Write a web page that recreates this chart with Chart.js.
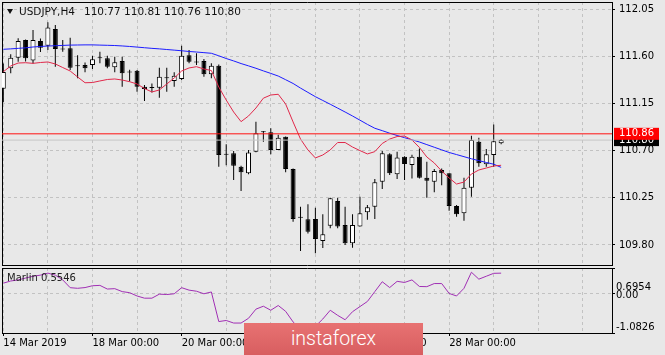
<!DOCTYPE html>
<html><head><meta charset="utf-8">
<script src="https://cdn.jsdelivr.net/npm/chart.js@4/dist/chart.umd.min.js"></script>
<style>
html,body{margin:0;padding:0;background:#e8e8e8;}
#wrap{position:relative;width:665px;height:355px;overflow:hidden;background:#e8e8e8;font-family:"DejaVu Sans",sans-serif;}
#main{position:absolute;left:0;top:0;}
#ind{position:absolute;left:0;top:266px;}
#hdr{position:absolute;left:19px;top:5px;font-size:10.5px;line-height:13px;color:#111;white-space:pre;}
#hdr span{margin-left:9px;}
#tri{position:absolute;left:7px;top:9px;width:0;height:0;border-left:3.5px solid transparent;border-right:3.5px solid transparent;border-top:5px solid #111;}
#ilab{position:absolute;left:7px;top:272px;font-size:10px;line-height:12px;color:#222;white-space:pre;}
#wm{position:absolute;left:244px;top:323px;width:179px;height:32px;background:linear-gradient(#e87272,#d85e60);color:#fff;font-family:Roboto,sans-serif;font-weight:300;font-size:19.5px;line-height:32px;text-align:center;}
</style></head><body>
<div id="wrap">
<canvas id="main" width="665" height="267"></canvas>
<canvas id="ind" width="665" height="89"></canvas>
<div id="tri"></div>
<div id="hdr"></div>
<div id="ilab"></div>
<div id="wm">instaforex</div>
</div>
<script>
// ---------- data ----------
const symbol = 'USDJPY';
const timeframe = 'H4';
const open  = [111.29,111.485,111.586,111.754,111.56,111.745,111.70,111.86,111.665,111.675,111.507,111.516,111.516,111.58,111.58,111.494,111.554,111.446,111.462,111.31,111.30,111.30,111.39,111.363,111.383,111.61,111.54,111.554,111.427,111.51,110.66,110.674,110.546,110.483,110.69,110.874,110.874,110.706,110.832,110.525,110.06,110.045,110.048,109.838,109.984,110.22,109.99,109.816,109.975,110.112,110.165,110.404,110.665,110.474,110.642,110.563,110.642,110.442,110.404,110.515,110.483,110.172,110.103,110.346,110.785,110.57,110.658,110.77];
const high  = [111.53,111.618,111.771,111.76,111.85,111.77,111.923,111.897,111.754,111.776,111.61,111.54,111.605,111.643,111.605,111.595,111.595,111.47,111.468,111.325,111.34,111.49,111.49,111.446,111.70,111.66,111.628,111.573,111.532,111.52,110.76,110.696,110.556,110.706,110.975,110.886,110.913,110.85,110.835,110.53,110.165,110.188,110.156,110.093,110.25,110.25,110.165,110.093,110.26,110.18,110.43,110.696,110.674,110.69,110.645,110.66,110.72,110.594,110.524,110.53,110.483,110.18,110.44,110.842,110.823,110.715,110.95,110.81];
const low   = [111.16,111.437,111.548,111.55,111.53,111.64,111.66,111.50,111.643,111.468,111.39,111.446,111.478,111.532,111.485,111.446,111.31,111.36,111.26,111.173,111.255,111.205,111.26,111.31,111.373,111.532,111.516,111.405,111.39,110.546,110.56,110.42,110.315,110.474,110.684,110.785,110.665,110.706,110.493,110.022,109.743,109.91,109.72,109.77,109.96,109.96,109.80,109.774,109.975,110.04,110.048,110.334,110.467,110.43,110.42,110.435,110.435,110.25,110.303,110.37,110.127,110.07,110.032,110.26,110.546,110.546,110.546,110.76];
const close = [111.45,111.586,111.745,111.58,111.754,111.681,111.875,111.669,111.668,111.49,111.505,111.485,111.57,111.59,111.50,111.542,111.437,111.444,111.31,111.287,111.298,111.405,111.392,111.414,111.605,111.548,111.542,111.427,111.51,110.658,110.662,110.556,110.493,110.683,110.865,110.876,110.706,110.823,110.525,110.048,110.062,109.927,109.857,109.902,110.245,109.975,109.816,109.99,110.103,110.16,110.398,110.674,110.483,110.633,110.572,110.642,110.442,110.413,110.505,110.483,110.172,110.093,110.346,110.80,110.58,110.665,110.79,110.80];
const maFast = [111.452,111.507,111.535,111.538,111.532,111.54,111.545,111.526,111.492,111.459,111.402,111.347,111.349,111.364,111.378,111.383,111.373,111.357,111.335,111.292,111.259,111.278,111.335,111.392,111.459,111.488,111.5,111.478,111.464,111.306,111.182,111.068,110.976,111.03,111.106,111.2,111.23,111.237,111.144,110.973,110.81,110.706,110.63,110.658,110.706,110.777,110.777,110.734,110.7,110.668,110.69,110.768,110.81,110.834,110.839,110.801,110.73,110.639,110.582,110.505,110.439,110.381,110.4,110.477,110.515,110.534,110.553,110.56];
const maSlow = [111.666,111.67,111.675,111.68,111.688,111.693,111.697,111.70,111.703,111.706,111.707,111.708,111.708,111.706,111.704,111.702,111.698,111.693,111.687,111.681,111.675,111.67,111.664,111.658,111.652,111.645,111.64,111.634,111.628,111.604,111.578,111.555,111.53,111.508,111.485,111.46,111.436,111.411,111.376,111.34,111.296,111.255,111.214,111.178,111.142,111.105,111.068,111.03,110.99,110.95,110.913,110.89,110.866,110.844,110.823,110.803,110.782,110.757,110.732,110.707,110.682,110.662,110.642,110.622,110.604,110.587,110.57,110.54];
const marlin = [0.28,0.34,0.37,0.42,0.47,0.50,0.555,0.50,0.37,0.157,0.14,0.16,0.21,0.22,0.12,0.13,0.05,0.02,-0.07,-0.13,-0.13,-0.02,-0.03,-0.01,0.157,0.09,0.06,-0.01,0.04,-0.77,-0.74,-0.81,-0.81,-0.68,-0.43,-0.35,-0.46,-0.33,-0.49,-0.78,-0.98,-1.0826,-0.90,-0.70,-0.46,-0.60,-0.72,-0.50,-0.36,-0.22,0.05,0.32,0.16,0.33,0.30,0.37,0.19,0.185,0.27,0.27,0.0,-0.07,0.14,0.58,0.39,0.47,0.55,0.5546];
const priceTicks = [112.05,111.60,111.15,110.70,110.25,109.80];
const lineLevel = 110.86;
const bidLevel = 110.80;
const indTicks = [0.6954, 0, -1.0826];
const indTickLabels = ['0.6954','0.00','-1.0826'];
const timeLabels = ['14 Mar 2019','18 Mar 00:00','20 Mar 00:00','22 Mar 00:00','26 Mar 00:00','28 Mar 00:00'];
const timeLabelBars = [0,12,24,36,48,60];
const barsPerDay = 6;

// ---------- scale ranges / style ----------
const xMin = -0.175, xMax = 81.92;
const yMin = 109.609, yMax = 112.117;
const gridColor = '#c2c2c2';
const CLEAR = 'rgba(0,0,0,0)';
const FONT = 'DejaVu Sans';

Chart.defaults.font.family = FONT;
Chart.defaults.font.size = 10;
Chart.defaults.color = '#000';

const n = close.length;
const idx = [...Array(n).keys()];
const bull = idx.map(i => close[i] >= open[i]);
const bodies = idx.map(i => ({x: i, y: [Math.min(open[i], close[i]), Math.max(open[i], close[i])]}));
const wicks = idx.map(i => ({x: i, y: [low[i], high[i]]}));
const labelAt = {};
timeLabelBars.forEach((b, k) => { labelAt[b] = timeLabels[k]; });

function fixBox(size) {
  return function (s) {
    if (s.isHorizontal()) s.height = size; else s.width = size;
    s.paddingTop = 0; s.paddingBottom = 0; s.paddingLeft = 0; s.paddingRight = 0;
  };
}
function dayTicks(s) {
  const t = [];
  for (let v = 0; v <= s.max; v += barsPerDay) t.push({value: v});
  s.ticks = t;
}
function frameAxis(pos, size) {
  return {type: 'linear', position: pos, display: true,
    ticks: {display: false}, grid: {display: false},
    border: {display: true, color: '#000', width: 1}, afterFit: fixBox(size)};
}
const isLevel = v => v === lineLevel || v === bidLevel;

document.getElementById('hdr').innerHTML = symbol + ',' + timeframe +
  '<span>' + [open[n-1], high[n-1], low[n-1], close[n-1]].map(v => v.toFixed(2)).join(' ') + '</span>';
document.getElementById('ilab').textContent = 'Marlin ' + marlin[n-1].toFixed(4);

const common = {
  responsive: false, animation: false, devicePixelRatio: 1, events: [],
  layout: {padding: 0, autoPadding: false},
  plugins: {legend: {display: false}, tooltip: {enabled: false}, title: {display: false}}
};

new Chart(document.getElementById('main'), {
  type: 'bar',
  data: {
    datasets: [
      {type: 'line', label: 'level', data: [{x: xMin, y: lineLevel}, {x: xMax, y: lineLevel}],
       borderColor: '#ff1010', borderWidth: 1, pointRadius: 0, order: 0, xAxisID: 'x', yAxisID: 'y'},
      {type: 'line', label: 'bid', data: [{x: xMin, y: bidLevel}, {x: xMax, y: bidLevel}],
       borderColor: '#c6c6c6', borderWidth: 1, pointRadius: 0, order: 1, xAxisID: 'x', yAxisID: 'y'},
      {type: 'line', label: 'fast', data: idx.map(i => ({x: i, y: maFast[i]})),
       borderColor: '#e0284a', borderWidth: 1, pointRadius: 0, tension: 0, order: 2, xAxisID: 'x', yAxisID: 'y'},
      {type: 'line', label: 'slow', data: idx.map(i => ({x: i, y: maSlow[i]})),
       borderColor: '#1c1cff', borderWidth: 1, pointRadius: 0, tension: 0, order: 3, xAxisID: 'x', yAxisID: 'y'},
      {type: 'bar', label: 'body', data: bodies, grouped: false, maxBarThickness: 5, minBarLength: 1,
       backgroundColor: c => bull[c.dataIndex] ? '#ffffff' : '#000000',
       borderColor: '#000', borderWidth: 1, borderSkipped: false, order: 4, xAxisID: 'x', yAxisID: 'y'},
      {type: 'bar', label: 'wick', data: wicks, grouped: false, maxBarThickness: 1,
       backgroundColor: '#000', borderWidth: 0, order: 5, xAxisID: 'x', yAxisID: 'y'}
    ]
  },
  options: Object.assign({}, common, {
    scales: {
      x: {type: 'linear', position: 'bottom', min: xMin, max: xMax, offset: false,
          afterBuildTicks: dayTicks,
          ticks: {display: false},
          grid: {color: gridColor, drawTicks: false, offset: false},
          border: {display: true, color: '#000', dash: [3, 3]},
          afterFit: fixBox(2)},
      xt: Object.assign(frameAxis('top', 2), {min: xMin, max: xMax}),
      y: {type: 'linear', position: 'right', min: yMin, max: yMax,
          afterBuildTicks: s => { s.ticks = priceTicks.map(v => ({value: v})).concat([{value: bidLevel}, {value: lineLevel}]); },
          ticks: {autoSkip: false, padding: 4, font: {family: FONT, size: 10},
                  callback: v => v.toFixed(2),
                  color: c => (c.tick && isLevel(c.tick.value)) ? '#ffffff' : '#000000',
                  showLabelBackdrop: c => !!(c.tick && isLevel(c.tick.value)),
                  backdropColor: c => (c.tick && c.tick.value === lineLevel) ? '#ff0000' : '#000000',
                  backdropPadding: {left: 5, right: 5, top: 0, bottom: 0}},
          grid: {color: c => (c.tick && isLevel(c.tick.value)) ? CLEAR : gridColor,
                 tickColor: c => (c.tick && isLevel(c.tick.value)) ? CLEAR : '#000',
                 tickLength: 3, tickBorderDash: [], drawTicks: true},
          border: {display: true, color: '#000', dash: [3, 3]},
          afterFit: fixBox(53)},
      yl: frameAxis('left', 2)
    }
  })
});

new Chart(document.getElementById('ind'), {
  type: 'line',
  data: {
    datasets: [
      {label: 'Marlin', data: idx.map(i => ({x: i, y: marlin[i]})), borderColor: '#a02fb4',
       borderWidth: 1, pointRadius: 0, tension: 0, xAxisID: 'x', yAxisID: 'y'}
    ]
  },
  options: Object.assign({}, common, {
    scales: {
      x: {type: 'linear', position: 'bottom', min: xMin, max: xMax, offset: false,
          afterBuildTicks: dayTicks,
          ticks: {autoSkip: false, maxRotation: 0, minRotation: 0, align: 'start', padding: 1,
                  font: {family: FONT, size: 10}, color: '#000',
                  callback: v => labelAt[v] !== undefined ? labelAt[v] : ''},
          grid: {color: gridColor, offset: false, drawTicks: true, tickLength: 3, tickBorderDash: [],
                 tickColor: c => (c.tick && labelAt[c.tick.value] !== undefined) ? '#000' : CLEAR},
          border: {display: true, color: '#000', dash: [3, 3]},
          afterFit: fixBox(22)},
      xt: Object.assign(frameAxis('top', 2), {min: xMin, max: xMax}),
      y: {type: 'linear', position: 'right', min: indTicks[2], max: indTicks[0],
          afterBuildTicks: s => { s.ticks = indTicks.map(v => ({value: v})); },
          ticks: {autoSkip: false, padding: 1, color: '#000',
                  font: c => {
                    let lh = 0.3;
                    if (c.tick && c.tick.value === indTicks[0]) lh = 3.9;
                    else if (c.tick && c.tick.value === indTicks[2]) lh = 1.2;
                    return {family: FONT, size: 10, lineHeight: lh};
                  },
                  callback: (v, i) => i === 2 ? [indTickLabels[i], ''] : ['', indTickLabels[i]]},
          grid: {color: c => (c.tick && c.tick.value === 0) ? gridColor : CLEAR,
                 tickColor: '#000', tickLength: 3, tickBorderDash: [], drawTicks: true},
          border: {display: true, color: '#000', dash: [3, 3]},
          afterFit: fixBox(53)},
      yl: frameAxis('left', 2)
    }
  })
});
</script>
</body></html>
